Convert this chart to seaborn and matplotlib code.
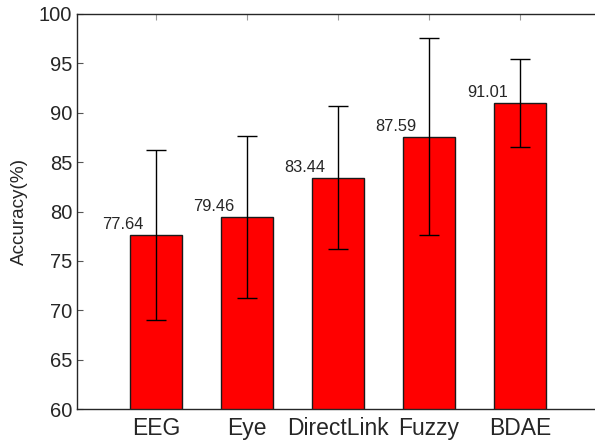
import numpy as np
import pandas as pd
import seaborn as sns
import matplotlib
matplotlib.use("Agg")
import matplotlib.pyplot as plt

# data
methods = ["EEG", "Eye", "DirectLink", "Fuzzy", "BDAE"]
accuracy = [77.64, 79.46, 83.44, 87.59, 91.01]
std = [8.6, 8.2, 7.25, 9.95, 4.45]
yticks = [60, 65, 70, 75, 80, 85, 90, 95, 100]

sns.set_style("ticks")
plt.rcParams["font.family"] = ["Liberation Sans", "DejaVu Sans"]
text_col = "#262626"

df = pd.DataFrame({"method": methods, "acc": accuracy, "std": std})

fig = plt.figure(figsize=(5.95, 4.4), dpi=100)
ax = fig.add_axes([77 / 595, 31 / 440, 1 - 77 / 595, 395 / 440])

sns.barplot(data=df, x="method", y="acc", color="#ff0000", saturation=1,
            width=0.57, edgecolor="#1a1a1a", linewidth=1.0, errorbar=None, ax=ax)
ax.errorbar(np.arange(len(methods)), df["acc"], yerr=df["std"], fmt="none",
            ecolor="black", elinewidth=1.0, capsize=7.5, capthick=1.0)

# value labels, left of the bar top
for i, v in enumerate(accuracy):
    ax.text(i - 0.36, v + 0.25, f"{v:.2f}", ha="center", va="bottom",
            fontsize=11.8, color=text_col)

ax.set_ylim(60, 100)
ax.set_yticks(yticks)
ax.set_xlim(-0.868, 4.824)
ax.set_xlabel("")
ax.set_ylabel("Accuracy(%)", fontsize=13.6, color=text_col, labelpad=8)
ax.tick_params(axis="y", direction="in", labelsize=14.5, labelcolor=text_col,
               color="#555555", length=4)
ax.tick_params(axis="x", direction="in", labelsize=16.5, labelcolor=text_col,
               color="#999999", length=4, top=True, pad=6)
for s in ["left", "top", "bottom"]:
    ax.spines[s].set_visible(True)
    ax.spines[s].set_color("#262626")
    ax.spines[s].set_linewidth(1.0)
ax.spines["right"].set_visible(False)

fig.savefig("out.png", dpi=100)
